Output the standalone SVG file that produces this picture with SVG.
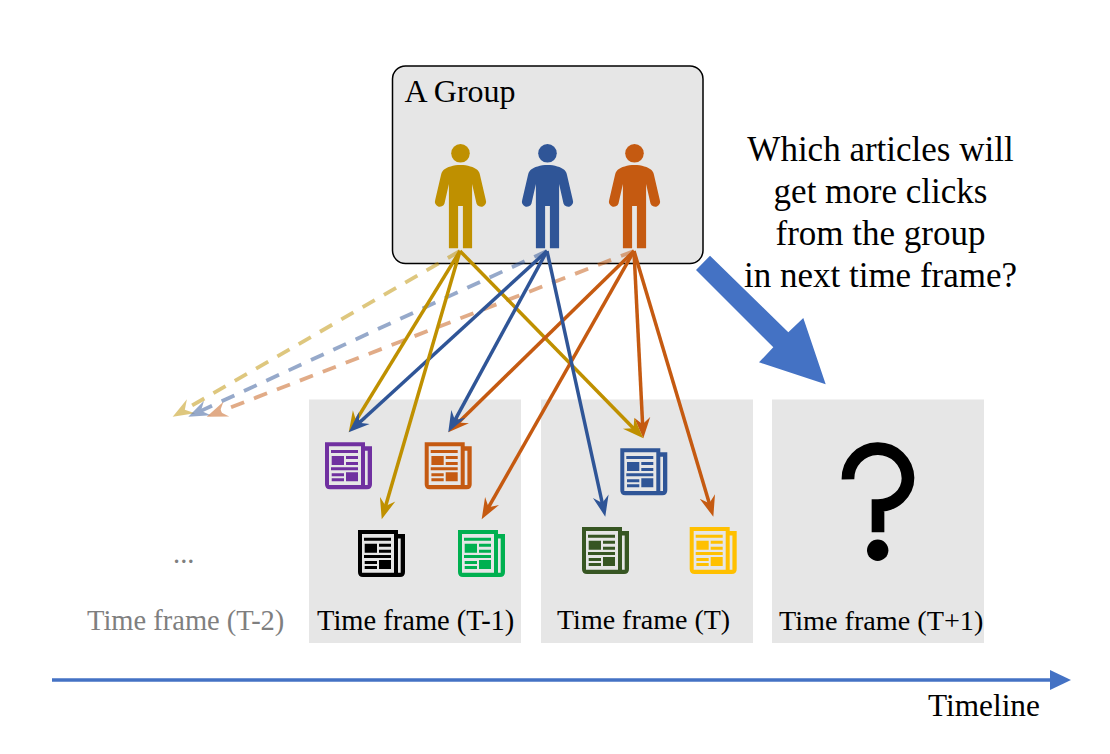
<svg xmlns="http://www.w3.org/2000/svg" xmlns:xlink="http://www.w3.org/1999/xlink" width="1110" height="754" viewBox="0 0 1110 754">
<style>
text{font-family:"Liberation Serif","Times New Roman",serif;fill:#000}
.panel{fill:#E6E6E6}
.lbl{font-size:28.500px}
.q{font-size:35px;text-anchor:middle}
.conn{fill:none;stroke-width:3.500}
.dash{stroke-dasharray:14 10.600;stroke-width:3.800;opacity:.5}
.gold{stroke:#BF9000}.blue{stroke:#2F5597}.orange{stroke:#C55A11}
</style>
<defs>
<marker id="mGold" markerUnits="userSpaceOnUse" markerWidth="24" markerHeight="18" refX="9" refY="9" orient="auto"><path d="M0 1L21 9L0 17L7 9Z" fill="#BF9000"/></marker>
<marker id="mBlue" markerUnits="userSpaceOnUse" markerWidth="24" markerHeight="18" refX="9" refY="9" orient="auto"><path d="M0 1L21 9L0 17L7 9Z" fill="#2F5597"/></marker>
<marker id="mOrange" markerUnits="userSpaceOnUse" markerWidth="24" markerHeight="18" refX="9" refY="9" orient="auto"><path d="M0 1L21 9L0 17L7 9Z" fill="#C55A11"/></marker>
<symbol id="person" overflow="visible">
<circle cx="0" cy="153.3" r="9.3"/>
<path d="M0 165C-7 165-13.500 167-17 170C-18.500 171.500-19 173-19.500 175L-25.300 200A4.900 4.900 0 0 0-16 203.500L-11.600 184V248.300H-2.400V206H2.400V248.300H11.600V184L16 203.500A4.900 4.900 0 0 0 25.300 200L19.500 175C19 173 18.500 171.500 17 170C13.500 167 7 165 0 165Z"/>
</symbol>
<symbol id="doc" overflow="visible">
<path fill-rule="evenodd" d="M0 0H40V4H47V42Q47 47 42 47H5Q0 47 0 42ZM4 4V42.700H36V4ZM40 8.400V42.700H42.700V8.400Z"/>
<path d="M6 7.700H33V10.700H6ZM6.700 13.700H19V22.700H6.700ZM21 13.700H33V16.700H21ZM21 19.700H33V22.700H21ZM6 25H33V28H6ZM6.700 31H19V34H6.700ZM6.700 36H19V39H6.700ZM21 30H33V39H21Z"/>
</symbol>
</defs>
<rect width="1110" height="754" fill="#fff"/>
<g id="frame-t2">
<text x="173" y="563" font-size="28.500" style="fill:#7F7F7F">...</text>
<text class="lbl" x="87" y="630" style="fill:#7F7F7F">Time frame (T-2)</text>
</g>
<g id="frame-t1">
<rect class="panel" x="309" y="399.500" width="212" height="243.500"/>
<text class="lbl" x="317" y="630">Time frame (T-1)</text>
<use id="doc-purple" xlink:href="#doc" href="#doc" x="325" y="442.300" fill="#7030A0"/>
<use id="doc-orange" xlink:href="#doc" href="#doc" x="424.700" y="442.300" fill="#C55A11"/>
<use id="doc-black" xlink:href="#doc" href="#doc" x="358" y="530" fill="#000"/>
<use id="doc-green" xlink:href="#doc" href="#doc" x="458" y="530" fill="#00B050"/>
</g>
<g id="frame-t">
<rect class="panel" x="541" y="399.500" width="212" height="243.500"/>
<text x="557" y="629" font-size="28">Time frame (T)</text>
<use id="doc-blue" xlink:href="#doc" href="#doc" x="620.300" y="448.300" fill="#2F5597"/>
<use id="doc-darkgreen" xlink:href="#doc" href="#doc" x="582" y="527" fill="#375623"/>
<use id="doc-yellow" xlink:href="#doc" href="#doc" x="689.700" y="527" fill="#FFC000"/>
</g>
<g id="frame-t-plus-1">
<rect class="panel" x="772" y="399.500" width="212" height="243.500"/>
<text x="779" y="630" font-size="28.200">Time frame (T+1)</text>
<path d="M848 479.300A30 30 0 0 1 908 478A30 27.500 0 0 1 878 505.500V532.300" fill="none" stroke="#000" stroke-width="12.700"/>
<circle cx="877.700" cy="550.300" r="10.700" fill="#000"/>
</g>
<g id="group">
<rect x="392.500" y="66" width="310.500" height="197.500" rx="13" fill="#E6E6E6" stroke="#000" stroke-width="1.500"/>
<text x="404.500" y="102" font-size="32">A Group</text>
<use id="person-gold" xlink:href="#person" href="#person" x="460.500" fill="#BF9000"/>
<use id="person-blue" xlink:href="#person" href="#person" x="547.500" fill="#2F5597"/>
<use id="person-orange" xlink:href="#person" href="#person" x="634.500" fill="#C55A11"/>
</g>
<g id="question">
<text class="q" x="880.500" y="161">Which articles will</text>
<text class="q" x="880.500" y="203">get more clicks</text>
<text class="q" x="880.500" y="245">from the group</text>
<text class="q" x="880.500" y="287">in next time frame?</text>
</g>
<g id="connectors">
<path class="conn dash gold" marker-end="url(#mGold)" d="M460 251L183.100 410.700"/>
<path class="conn dash blue" marker-end="url(#mBlue)" d="M547 251L199.200 411.700"/>
<path class="conn dash orange" marker-end="url(#mOrange)" d="M634 251L217.900 412.400"/>
<path class="conn orange" marker-end="url(#mOrange)" d="M634 251L642.700 426.300"/>
<path class="conn gold" marker-end="url(#mGold)" d="M460 251L634.900 429.700"/>
<path class="conn gold" marker-end="url(#mGold)" d="M460 251L355 422.100"/>
<path class="conn blue" marker-end="url(#mBlue)" d="M547 251L357.600 424.200"/>
<path class="conn gold" marker-end="url(#mGold)" d="M460 251L385.100 507.800"/>
<path class="conn orange" marker-end="url(#mOrange)" d="M634 251L456.900 423.900"/>
<path class="conn blue" marker-end="url(#mBlue)" d="M547 251L454 421.800"/>
<path class="conn orange" marker-end="url(#mOrange)" d="M634 251L487.600 508.900"/>
<path class="conn blue" marker-end="url(#mBlue)" d="M547 251L602.700 505"/>
<path class="conn orange" marker-end="url(#mOrange)" d="M634 251L709.900 505.200"/>
<path id="next-arrow" fill="#4472C4" d="M710 255.700L696 270L773.300 347.300L759 362.300L825.700 384.300L803.300 318L788.300 332.300Z"/>
<path id="timeline-line" d="M52 680H1052" stroke="#4472C4" stroke-width="3.500" fill="none"/>
<path id="timeline-head" d="M1050 670L1071 680L1050 690Z" fill="#4472C4"/>
</g>
<text id="timeline" x="928" y="716" font-size="31.300">Timeline</text>
</svg>
